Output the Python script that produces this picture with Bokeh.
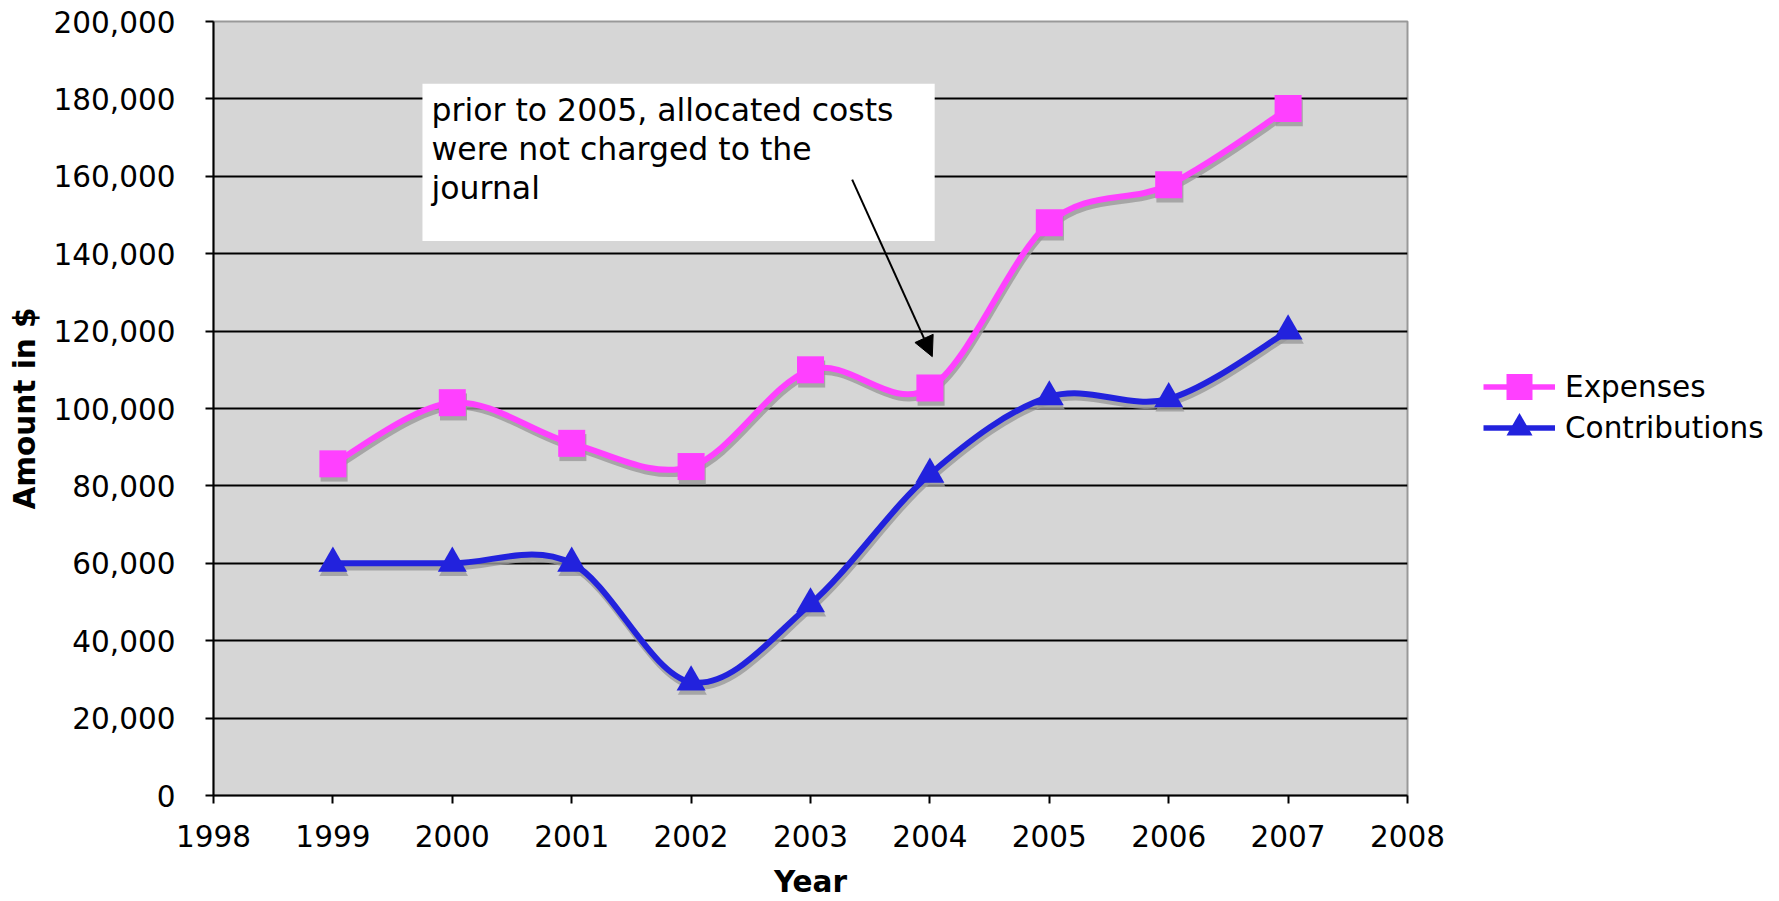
from bokeh.plotting import figure
from bokeh.layouts import row
from bokeh.models import (FixedTicker, NumeralTickFormatter, Legend, LegendItem,
                          BoxAnnotation, Label, Arrow, NormalHead)
from bokeh.embed import file_html
from bokeh.resources import INLINE

# ---- data ----
years = [1999, 2000, 2001, 2002, 2003, 2004, 2005, 2006, 2007]
expenses = [85700, 101500, 91000, 85000, 110000, 105300, 148000, 157800, 177500]
contributions = [60000, 60000, 60000, 29300, 49500, 83000, 103000, 102500, 120000]
x_ticks = [1998, 1999, 2000, 2001, 2002, 2003, 2004, 2005, 2006, 2007, 2008]
y_ticks = [0, 20000, 40000, 60000, 80000, 100000, 120000, 140000, 160000, 180000, 200000]
series_names = ["Expenses", "Contributions"]
note_text = "prior to 2005, allocated costs\nwere not charged to the\njournal"

EXP_COLOR = "#FF40FF"
CON_COLOR = "#2222DD"
FONT = "DejaVu Sans"
FS = "29.5px"


def smooth_segments(xs, ys):
    """Cubic Bezier control points (Catmull-Rom style, as Excel smoothing)."""
    n = len(xs)
    out = dict(x0=[], y0=[], x1=[], y1=[], cx0=[], cy0=[], cx1=[], cy1=[])
    for i in range(n - 1):
        im = max(i - 1, 0)
        ip2 = min(i + 2, n - 1)
        out["x0"].append(xs[i]); out["y0"].append(ys[i])
        out["x1"].append(xs[i + 1]); out["y1"].append(ys[i + 1])
        out["cx0"].append(xs[i] + (xs[i + 1] - xs[im]) / 6.0)
        out["cy0"].append(ys[i] + (ys[i + 1] - ys[im]) / 6.0)
        out["cx1"].append(xs[i + 1] - (xs[ip2] - xs[i]) / 6.0)
        out["cy1"].append(ys[i + 1] - (ys[ip2] - ys[i]) / 6.0)
    return out


def shifted(seg, dx, dy):
    return {k: [v + (dx if k.startswith(("x", "cx")) else dy) for v in vals]
            for k, vals in seg.items()}


P_W = 1457
p = figure(width=P_W, height=901,
           x_range=(1998, 2008), y_range=(0, 200000),
           output_backend="svg", toolbar_location=None,
           min_border_left=213, min_border_right=50,
           min_border_top=21, min_border_bottom=105,
           background_fill_color="#D6D6D6", border_fill_color="white")

p.outline_line_color = "#999999"
p.outline_line_width = 2

for ax in (p.xaxis[0], p.yaxis[0]):
    ax.axis_line_color = "black"
    ax.axis_line_width = 2
    ax.major_tick_line_color = "black"
    ax.major_tick_line_width = 2
    ax.major_tick_out = 8
    ax.major_tick_in = 0
    ax.minor_tick_line_color = None
    ax.major_label_text_font = FONT
    ax.major_label_text_font_size = FS
    ax.major_label_text_color = "black"
    ax.axis_label_text_font = FONT
    ax.axis_label_text_font_size = FS
    ax.axis_label_text_font_style = "bold"
    ax.axis_label_text_color = "black"

p.xaxis.ticker = FixedTicker(ticks=x_ticks)
p.yaxis.ticker = FixedTicker(ticks=y_ticks)
p.yaxis.formatter = NumeralTickFormatter(format="0,0")
p.xaxis.axis_label = "Year"
p.yaxis.axis_label = "Amount in $"
p.xaxis.major_label_standoff = 21
p.xaxis.axis_label_standoff = 15
p.yaxis.major_label_standoff = 30
p.yaxis.axis_label_standoff = 9

p.xgrid.grid_line_color = None
p.ygrid.grid_line_color = "black"
p.ygrid.grid_line_width = 2

# shadows (offset a few pixels down)
DX, DY = 0.01, -1100
SH = "#9a9a9a"
seg_e = smooth_segments(years, expenses)
seg_c = smooth_segments(years, contributions)
for seg in (seg_e, seg_c):
    p.bezier(line_color=SH, line_width=6, line_alpha=0.8, **shifted(seg, DX, DY))
p.scatter([y + DX for y in years], [v + DY for v in expenses], marker="square",
          size=27, fill_color=SH, line_color=None, fill_alpha=0.8)
p.scatter([y + DX for y in years], [v + DY for v in contributions], marker="triangle",
          size=29, fill_color=SH, line_color=None, fill_alpha=0.8)

# main series
p.bezier(line_color=EXP_COLOR, line_width=6, **seg_e)
p.scatter(years, expenses, marker="square", size=27,
          fill_color=EXP_COLOR, line_color=None)
p.bezier(line_color=CON_COLOR, line_width=6, **seg_c)
p.scatter(years, contributions, marker="triangle", size=29,
          fill_color=CON_COLOR, line_color=None)

# annotation
box = BoxAnnotation(left=1999.75, right=2004.04, top=183900, bottom=143300,
                    fill_color="white", fill_alpha=1.0, line_color=None)
p.add_layout(box)
note = Label(x=1999.826, y=181800, text=note_text, text_font=FONT,
             text_font_size="31.5px", text_color="black",
             text_baseline="top", text_align="left", text_line_height=1.08)
p.add_layout(note)
arrow = Arrow(end=NormalHead(size=20, fill_color="black", line_color="black"),
              x_start=2003.349, y_start=159150, x_end=2004.02, y_end=113400,
              line_color="black", line_width=2)
p.add_layout(arrow)

# legend panel (separate blank figure to the right of the chart)
p2 = figure(width=1779 - P_W, height=901, x_range=(0, 1), y_range=(0, 1),
            output_backend="svg", toolbar_location=None,
            x_axis_location=None, y_axis_location=None,
            min_border_left=0, min_border_right=0, min_border_top=0, min_border_bottom=0,
            background_fill_color="white", border_fill_color="white")
p2.outline_line_color = None
p2.grid.visible = False
# proxies for the legend glyphs (their data lie outside this blank panel's ranges)
le_line = p2.line(years, expenses, line_color=EXP_COLOR, line_width=5.3)
le_mark = p2.scatter(years, expenses, marker="square", fill_color=EXP_COLOR, line_color=None)
lc_line = p2.line(years, contributions, line_color=CON_COLOR, line_width=5.3)
lc_mark = p2.scatter(years, contributions, marker="triangle", fill_color=CON_COLOR, line_color=None)

LEG_X = 1483 - P_W
leg_kw = dict(label_text_font=FONT, label_text_font_size=FS, label_text_color="black",
              glyph_width=72, glyph_height=65, label_height=30,
              label_standoff=10, spacing=0, padding=0, margin=0,
              border_line_color=None, background_fill_alpha=0)
legend1 = Legend(items=[LegendItem(label=series_names[0], renderers=[le_line, le_mark])],
                 location=(LEG_X, 376), **leg_kw)
legend2 = Legend(items=[LegendItem(label=series_names[1], renderers=[lc_line, lc_mark])],
                 location=(LEG_X, 335), **leg_kw)
p2.add_layout(legend1)
p2.add_layout(legend2)

layout = row(p, p2)
open("out.html", "w").write(file_html(layout, INLINE))
